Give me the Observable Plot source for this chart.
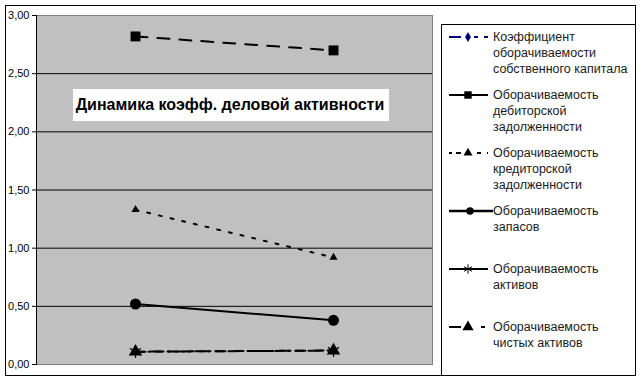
<!DOCTYPE html>
<html><head><meta charset="utf-8">
<script src="https://cdn.jsdelivr.net/npm/d3@7"></script>
<script src="https://cdn.jsdelivr.net/npm/@observablehq/plot@0.6"></script>
<style>body{margin:0;background:#fff} svg{display:block}</style>
</head><body><div id="chart"></div>
<script>
// ---- data ----
const periods = ["Период 1", "Период 2"];
const seriesNames = [
  "Коэффициент оборачиваемости собственного капитала",
  "Оборачиваемость дебиторской задолженности",
  "Оборачиваемость кредиторской задолженности",
  "Оборачиваемость запасов",
  "Оборачиваемость активов",
  "Оборачиваемость чистых активов"
];
const legendLines = [
  ["Коэффициент", "оборачиваемости", "собственного капитала"],
  ["Оборачиваемость", "дебиторской", "задолженности"],
  ["Оборачиваемость", "кредиторской", "задолженности"],
  ["Оборачиваемость", "запасов"],
  ["Оборачиваемость", "активов"],
  ["Оборачиваемость", "чистых активов"]
];
const kapital  = [null, null];   // not visible on the chart
const debitor  = [2.82, 2.70];
const kreditor = [1.33, 0.92];
const zapasy   = [0.52, 0.38];
const aktivy   = [0.11, 0.12];
const chistye  = [0.11, 0.12];
const yTicks = [0, 0.5, 1, 1.5, 2, 2.5, 3];
const gridValues = [0.5, 1, 1.5, 2, 2.5];
const titleText = "Динамика коэфф. деловой активности";

const seriesValues = [kapital, debitor, kreditor, zapasy, aktivy, chistye];
const rows = [];
seriesValues.forEach((vals, i) => vals.forEach((v, j) =>
  rows.push({series: seriesNames[i], period: periods[j], value: v})));

// ---- styles ----
const styles = [
  {stroke: "#000080", width: 2, dash: "8,4", symbol: "diamond", r: 3, fill: "#000080"},
  {stroke: "#000", width: 2, dash: "12,10", symbol: "square", r: 5.6, fill: "#000"},
  {stroke: "#000", width: 2, dash: "3,9", symbol: "triangle", r: 3, fill: "#000"},
  {stroke: "#000", width: 2, dash: null, symbol: "circle", r: 5.5, fill: "#000"},
  {stroke: "#000", width: 2, dash: "10,6", symbol: "asterisk", r: 6, fill: "none"},
  {stroke: "#000", width: 2, dash: "8,5,2,5", symbol: "triangle", r: 5, fill: "#000"}
];

const marks = [
  Plot.frame({fill: "#c0c0c0", stroke: "#808080"}),
  Plot.ruleY(gridValues, {stroke: "#000", strokeWidth: 1}),
  Plot.frame({anchor: "left", stroke: "#000"}),
  Plot.axisY({ticks: yTicks, tickFormat: d => d.toFixed(2).replace(".", ","),
    tickSize: 4, tickPadding: 3, fontSize: 11, label: null, stroke: "#000", fill: "#000"}),
];
seriesNames.forEach((name, i) => {
  const s = styles[i];
  const data = rows.filter(d => d.series === name && d.value != null);
  marks.push(Plot.line(data, {x: "period", y: "value", stroke: s.stroke,
    strokeWidth: s.width, strokeDasharray: s.dash || undefined}));
});
seriesNames.forEach((name, i) => {
  const s = styles[i];
  const data = rows.filter(d => d.series === name && d.value != null);
  if (s.fill === "none")
    marks.push(Plot.dot(data, {x: "period", y: "value", symbol: s.symbol, r: s.r,
      stroke: s.stroke, strokeWidth: 1.2}));
  else
    marks.push(Plot.dot(data, {x: "period", y: "value", symbol: s.symbol, r: s.r,
      fill: s.fill, stroke: "none"}));
});

const W = 642, H = 381;
const svg = Plot.plot({
  width: W, height: H,
  marginLeft: 36, marginRight: 210, marginTop: 15, marginBottom: 17,
  style: {background: "#fff", color: "#000", fontFamily: "'Liberation Sans', Arial, sans-serif"},
  x: {type: "point", domain: periods, padding: 0.5, axis: null},
  y: {domain: [0, 3], axis: null},
  marks
});

const g = d3.select(svg);
const font = "'Liberation Sans', Arial, sans-serif";

// title box
const tg = g.append("g");
tg.append("rect").attr("x", 73).attr("y", 89).attr("width", 316).attr("height", 32).attr("fill", "#fff");
tg.append("text").attr("x", 230).attr("y", 110).attr("text-anchor", "middle")
  .attr("font-family", font).attr("font-weight", "bold").attr("font-size", 16)
  .attr("fill", "#000").text(titleText);

// outer border
g.append("rect").attr("x", 5.5).attr("y", 5.5).attr("width", 630).attr("height", 370)
  .attr("fill", "none").attr("stroke", "#000");

// legend
const lg = g.append("g").attr("text-anchor", "start");
lg.append("rect").attr("x", 441.5).attr("y", 24.5).attr("width", 194).attr("height", 351)
  .attr("fill", "#fff").attr("stroke", "#000");
const legendDash = ["12,13,4,6,4,100", null, "3,4,5,16,4,6,4,100", null, null, "12,20,4,100"];
const legendSym = {
  diamond: d3.symbolDiamond, square: d3.symbolSquare, triangle: d3.symbolTriangle,
  circle: d3.symbolCircle, asterisk: d3.symbolAsterisk
};
const legendSize = [30, 55, 35, 45, 60, 55];
seriesNames.forEach((name, i) => {
  const s = styles[i];
  const y0 = 37 + i * 58;
  lg.append("line").attr("x1", 449).attr("x2", i === 3 ? 493 : 488)
    .attr("y1", y0).attr("y2", y0).attr("stroke", s.stroke)
    .attr("stroke-width", i === 3 ? 2.5 : 2)
    .attr("stroke-dasharray", legendDash[i]);
  const sym = d3.symbol(legendSym[s.symbol], legendSize[i]);
  const p = lg.append("path").attr("d", sym()).attr("transform", `translate(${i === 3 ? 470 : 468},${y0})`);
  if (s.fill === "none") p.attr("fill", "none").attr("stroke", "#000").attr("stroke-width", 1);
  else p.attr("fill", s.fill);
  legendLines[i].forEach((t, k) => {
    lg.append("text").attr("x", 493).attr("y", y0 + 4 + k * 16).attr("text-anchor", "start")
      .attr("font-family", font).attr("font-size", 12.5).attr("fill", "#1a1a1a").text(t);
  });
});

document.getElementById("chart").appendChild(svg);
</script>
</body></html>
